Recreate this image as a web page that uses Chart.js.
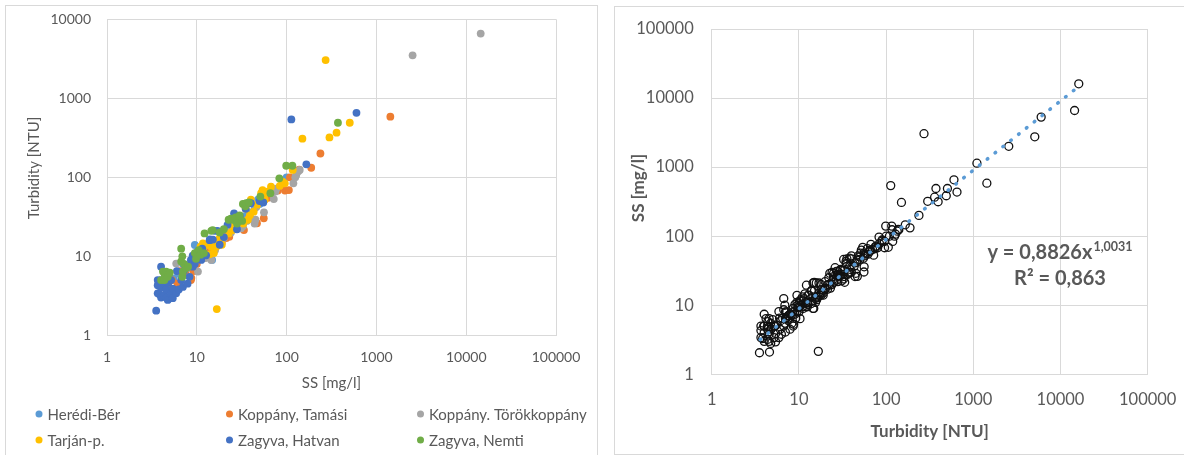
<!DOCTYPE html>
<html>
<head>
<meta charset="utf-8">
<script src="https://cdn.jsdelivr.net/npm/chart.js@4.4.1/dist/chart.umd.min.js"></script>
<style>
  html, body { margin: 0; padding: 0; background: #fff; overflow: hidden; }
  body { width: 1184px; height: 455px; position: relative; }
  .panel { position: absolute; border: 1px solid #d9d9d9; }
  #leftPanel { left: 5px; top: 5px; width: 591px; height: 470px; }
  #rightPanel { left: 614px; top: 6px; width: 600px; height: 447px; }
  canvas { display: block; }
</style>
</head>
<body>
<div class="panel" id="leftPanel"><canvas id="ssChart" width="591" height="449"></canvas></div>
<div class="panel" id="rightPanel"><canvas id="fitChart" width="569" height="446"></canvas></div>
<script>
// sampling stations, [SS mg/l, turbidity NTU]
const seriesNames = ['Herédi-Bér', 'Koppány, Tamási', 'Koppány. Törökkoppány', 'Tarján-p.', 'Zagyva, Hatvan', 'Zagyva, Nemti'];
const seriesColors = ['#5b9bd5', '#ed7d31', '#a5a5a5', '#ffc000', '#4472c4', '#70ad47'];

const heredi = [
  [3.95, 5.0], [4.5, 4.8], [5.5, 5.2], [6.2, 6.0], [7.0, 8.0], [7.5, 6.5], [8.2, 7.2], [9.0, 8.2], [9.5, 13.9], [10.2, 11.5],
  [11, 9.5], [12.5, 11], [13, 14], [14.8, 9.0], [15.5, 12.5], [17, 15], [19, 16.5], [22, 20], [25, 24], [29, 27],
  [33, 32], [38, 36], [44, 41], [48, 52], [50, 46], [57, 55], [65, 60], [75, 70], [90, 85], [100, 100]
];
const tamasi = [
  [4.5, 4.1], [4.8, 4.5], [5.3, 5.0], [6.1, 4.5], [6.5, 6.5], [7.5, 6.0], [8.7, 5.3], [8.6, 5.0], [9.2, 6.5], [10, 8],
  [12, 9.5], [14, 11.5], [16, 13], [19, 15], [21.3, 17], [23, 17.7], [27, 23], [33.5, 21.5], [38, 30], [46.8, 26.2],
  [55.7, 30.3], [62, 55], [80, 68], [96, 68], [106, 69], [109, 100], [138, 125], [188, 132], [238, 200], [1430, 585]
];
const torokkoppany = [
  [5.9, 8.1], [7.5, 7.0], [8.5, 8.0], [10.3, 6.4], [10, 9.5], [12.5, 9.5], [14.5, 9.0], [16, 12], [18, 15], [20, 17],
  [24, 20], [28, 28], [31, 22.6], [32.6, 24], [36, 28], [40, 30], [44, 26], [45, 29], [46, 42], [56, 36],
  [70, 64], [72, 53], [75, 66], [77, 72], [119, 84], [125, 100], [128, 107], [134, 118], [140, 124], [2530, 3500], [14500, 6600]
];
const tarjan = [
  [9.5, 9.8], [10.5, 10], [11, 13.2], [11.7, 14.6], [12.7, 13.9], [13.9, 10.6], [14.5, 13.2], [15.5, 11], [16.5, 13.2], [16.7, 2.15],
  [17.2, 13.9], [17.9, 16.8], [19, 14], [21, 19.5], [22.7, 19.5], [25, 21.5], [25, 26], [28, 31], [30, 27], [33, 26],
  [35, 40], [37, 29], [39, 33], [40, 52], [43, 36.7], [47, 45], [52, 63], [54, 69], [56, 57], [57, 52],
  [61, 66], [67, 76], [84, 78], [90, 88], [95.5, 84], [117, 124], [150, 308], [272, 3050], [300, 320], [360, 367], [505, 490]
];
const hatvan = [
  [3.53, 2.05], [3.67, 3.4], [3.67, 4.3], [3.67, 5.0], [3.84, 3.3], [4.0, 3.0], [4.0, 4.0], [4.0, 7.4], [4.36, 3.2], [4.36, 4.5],
  [4.56, 3.0], [4.56, 3.8], [4.75, 2.8], [4.8, 4.6], [5.18, 3.4], [5.18, 5.0], [5.4, 2.95], [5.4, 3.9], [5.89, 3.4], [6.0, 6.5],
  [6.3, 3.8], [6.7, 5.0], [7.0, 4.1], [7.2, 6.6], [7.9, 4.5], [8.0, 7.5], [8.3, 5.5], [8.6, 9.0], [9.0, 7.4], [9.0, 10.2],
  [9.5, 8.0], [10, 10.5], [11.2, 9.0], [11.5, 12.5], [12.7, 10.3], [13.9, 16.0], [14, 16.4], [15.1, 16.3], [15.8, 21], [17, 21],
  [18, 14], [20, 17.5], [22, 25], [26, 35], [28, 22], [30, 32], [35, 40], [40, 47], [50, 50], [55, 48],
  [113, 540], [166, 146], [600, 655]
];
const nemti = [
  [4.0, 5.0], [4.2, 6.4], [4.36, 5.0], [4.4, 5.8], [4.56, 6.4], [4.75, 5.5], [5.0, 6.2], [6.7, 8.6], [6.7, 12.5], [6.9, 5.5],
  [6.9, 10], [7.0, 6.4], [7.2, 8.0], [7.6, 7.1], [8.0, 7.4], [9.5, 11], [9.8, 9.3], [10.5, 12], [11, 10.5], [12, 11],
  [12.2, 19.5], [14.5, 21], [15, 21.5], [18, 20], [20, 22], [22.6, 29], [24, 30], [25, 29], [27, 31], [28, 26],
  [30, 33], [32, 28], [32.6, 46], [34.7, 43], [35.5, 47], [38, 48], [51, 57], [66, 63], [83, 97], [99, 140],
  [116, 140], [373, 490]
];
// pooled plot: samples added to / left out of the station data
const pooledExtra = [[4.6, 2.1], [395, 315], [490, 385], [650, 435], [1100, 1140], [2550, 2000], [5070, 2750], [6000, 5300], [16200, 16100]];
const pooledSkip = [[2530, 3500]];

const ssTicks = [1, 10, 100, 1000, 10000, 100000];
const turbTicks = [1, 10, 100, 1000, 10000];
const pooledTicks = [1, 10, 100, 1000, 10000, 100000];

// power trendline y = a * x^b
const trendCoef = 0.8826;
const trendExp = 1.0031;
const rSquared = 0.863;
const trendFrom = 3.6;
const trendTo = 16000;

const textColor = '#595959';
const gridColor = '#d9d9d9';
const fontFamily = 'Lato, "Open Sans", sans-serif';
Chart.defaults.font.family = fontFamily;
Chart.defaults.color = textColor;

const stations = [heredi, tamasi, torokkoppany, tarjan, hatvan, nemti];
const toPoints = arr => arr.map(([x, y]) => ({ x, y }));
const comma = v => String(v).replace('.', ',');

function logAxis(o) {
  return {
    type: 'logarithmic',
    min: o.ticks[0],
    max: o.ticks[o.ticks.length - 1],
    afterBuildTicks: s => { s.ticks = o.ticks.map(v => ({ value: v })); },
    afterFit: s => {
      if (o.width) s.width = o.width;
      if (o.height) s.height = o.height;
      // plot area is placed by layout.padding alone
      s.paddingTop = s.paddingBottom = s.paddingLeft = s.paddingRight = 0;
    },
    grid: { color: gridColor, lineWidth: 1, drawTicks: false },
    border: { color: gridColor, width: 1 },
    ticks: { padding: o.pad, autoSkip: false, maxRotation: 0, font: { size: o.size }, callback: v => String(v) },
    title: o.title || { display: false }
  };
}

// y titles, grid legend and trendline label
const panelText = {
  id: 'panelText',
  afterDraw(chart, args, opts) {
    const ctx = chart.ctx;
    ctx.save();
    ctx.fillStyle = textColor;
    ctx.textBaseline = 'middle';
    if (opts.yTitle) {
      const t = opts.yTitle;
      ctx.save();
      ctx.font = `${t.weight} ${t.size}px ${fontFamily}`;
      ctx.translate(t.x, t.y);
      ctx.rotate(-Math.PI / 2);
      ctx.textAlign = 'center';
      ctx.fillText(t.text, 0, 0);
      ctx.restore();
    }
    if (opts.legend) {
      const L = opts.legend;
      ctx.font = `${L.size}px ${fontFamily}`;
      ctx.textAlign = 'left';
      chart.data.datasets.forEach((ds, i) => {
        const x = L.cols[i % L.cols.length];
        const y = L.rows[Math.floor(i / L.cols.length)];
        ctx.fillStyle = ds.backgroundColor;
        ctx.beginPath();
        ctx.arc(x - L.gap, y, L.dot, 0, Math.PI * 2);
        ctx.fill();
        ctx.fillStyle = textColor;
        ctx.fillText(ds.label, x, y + 1);
      });
    }
    if (opts.equation) {
      const E = opts.equation;
      const main = `y = ${comma(trendCoef)}x`;
      const sup = comma(trendExp);
      ctx.textBaseline = 'alphabetic';
      ctx.font = `bold ${E.size}px ${fontFamily}`;
      const wMain = ctx.measureText(main).width;
      ctx.font = `bold ${E.supSize}px ${fontFamily}`;
      const wSup = ctx.measureText(sup).width;
      const x0 = E.x - (wMain + wSup + 1) / 2;
      ctx.textAlign = 'left';
      ctx.font = `bold ${E.size}px ${fontFamily}`;
      ctx.fillText(main, x0, E.y1);
      ctx.font = `bold ${E.supSize}px ${fontFamily}`;
      ctx.fillText(sup, x0 + wMain + 1, E.y1 - E.raise);
      ctx.font = `bold ${E.size}px ${fontFamily}`;
      ctx.textAlign = 'center';
      ctx.fillText(`R² = ${comma(rSquared)}`, E.x, E.y2);
    }
    ctx.restore();
  }
};

// stations plot
new Chart(document.getElementById('ssChart'), {
  type: 'scatter',
  data: {
    datasets: stations.map((pts, i) => ({
      label: seriesNames[i],
      data: toPoints(pts),
      backgroundColor: seriesColors[i],
      borderColor: seriesColors[i],
      borderWidth: 0,
      pointRadius: 3.9,
      order: stations.length - i
    }))
  },
  options: {
    responsive: false,
    animation: false,
    events: [],
    layout: { padding: { left: 0, right: 41, top: 13.3, bottom: 59.7 } },
    scales: {
      x: logAxis({
        ticks: ssTicks, height: 60, pad: 13.6, size: 14,
        title: { display: true, text: 'SS [mg/l]', font: { size: 15 }, padding: { top: 0, bottom: 3.3 } }
      }),
      y: logAxis({ ticks: turbTicks, width: 101, pad: 16, size: 14 })
    },
    plugins: {
      legend: { display: false },
      tooltip: { enabled: false },
      panelText: {
        yTitle: { text: 'Turbidity [NTU]', x: 28.5, y: 162, size: 15, weight: 'normal' },
        legend: { cols: [41.5, 232, 423], rows: [408, 434], gap: 8.5, dot: 3.5, size: 15 }
      }
    }
  },
  plugins: [panelText]
});

// pooled plot with power trendline
const isSkipped = ([x, y]) => pooledSkip.some(([sx, sy]) => sx === x && sy === y);
const pooled = stations.flat().filter(p => !isSkipped(p)).concat(pooledExtra);
new Chart(document.getElementById('fitChart'), {
  type: 'scatter',
  data: {
    datasets: [
      {
        label: 'Trend',
        data: [
          { x: trendFrom, y: trendCoef * Math.pow(trendFrom, trendExp) },
          { x: trendTo, y: trendCoef * Math.pow(trendTo, trendExp) }
        ],
        showLine: true,
        borderColor: '#5b9bd5',
        borderWidth: 3.6,
        borderDash: [0.6, 9.4],
        borderCapStyle: 'round',
        pointRadius: 0,
        order: 0
      },
      {
        label: 'Samples',
        data: toPoints(pooled),
        backgroundColor: 'rgba(0,0,0,0)',
        borderColor: '#111',
        borderWidth: 1.3,
        pointRadius: 4,
        order: 1
      }
    ]
  },
  options: {
    responsive: false,
    animation: false,
    events: [],
    layout: { padding: { left: 0, right: 36.3, top: 22, bottom: 8 } },
    scales: {
      x: logAxis({
        ticks: pooledTicks, height: 70.7, pad: 15.8, size: 16.5,
        title: { display: true, text: 'Turbidity [NTU]', font: { size: 17, weight: 'bold' }, padding: { top: 0, bottom: 3.1 } }
      }),
      y: logAxis({ ticks: pooledTicks, width: 96.7, pad: 18, size: 16.5 })
    },
    plugins: {
      legend: { display: false },
      tooltip: { enabled: false },
      panelText: {
        yTitle: { text: 'SS [mg/l]', x: 24, y: 181, size: 17, weight: 'bold' },
        equation: { x: 445, y1: 252.3, y2: 278, raise: 8.6, size: 20, supSize: 12.5 }
      }
    }
  },
  plugins: [panelText]
});
</script>
</body>
</html>
